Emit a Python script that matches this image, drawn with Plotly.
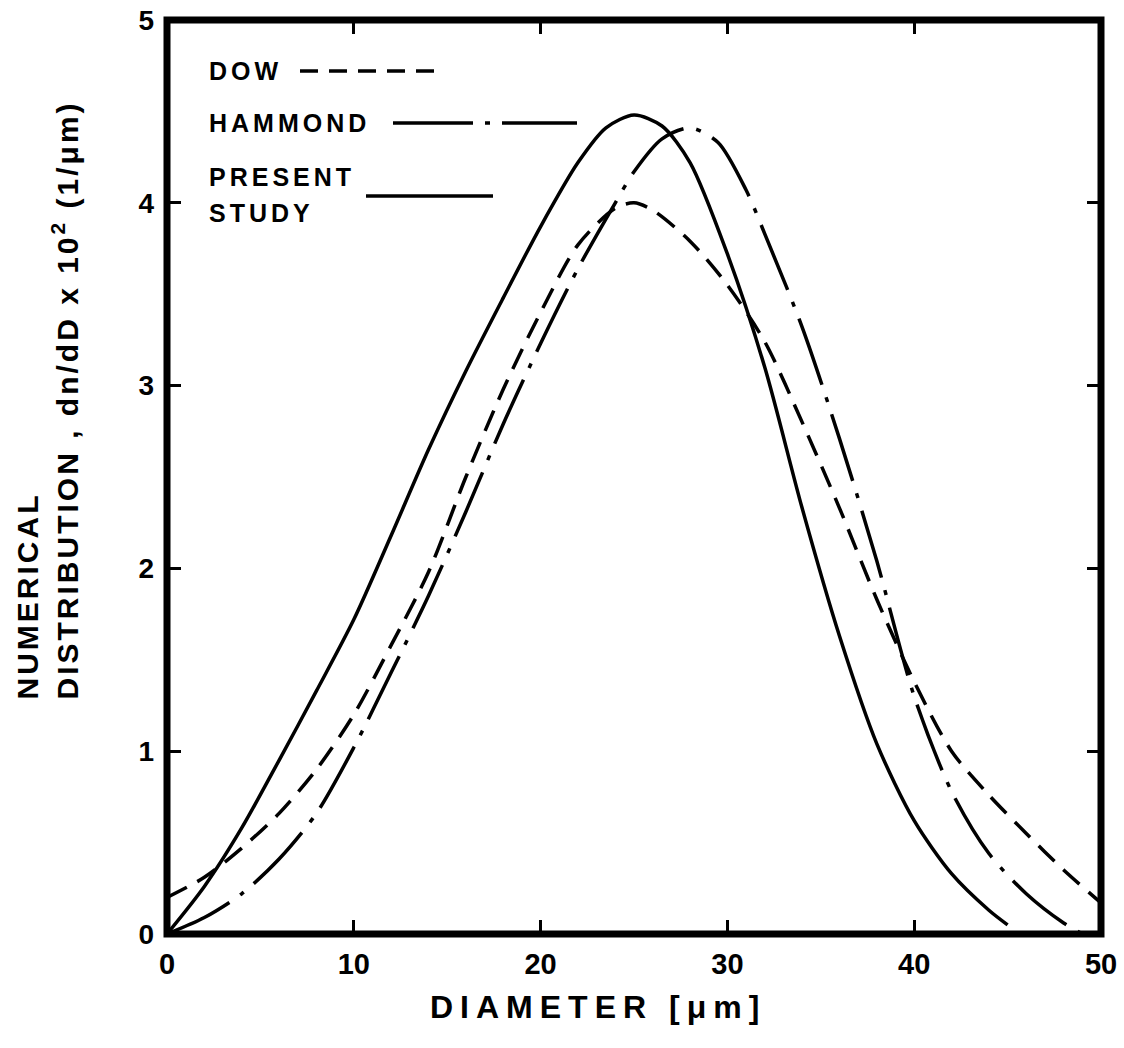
import plotly.graph_objects as go

# ---------------- data ----------------
present_d = [0, 2, 4, 6, 8, 10, 12, 14, 16, 18, 20, 22, 23.5, 25, 26.5, 28, 30, 32, 34, 36, 38, 40, 42, 44, 45]
present_y = [0, 0.26, 0.58, 0.95, 1.33, 1.72, 2.18, 2.65, 3.08, 3.48, 3.87, 4.22, 4.41, 4.48, 4.42, 4.22, 3.72, 3.10, 2.33, 1.63, 1.04, 0.62, 0.33, 0.13, 0.05]

dow_d = [0, 2, 4, 6, 8, 10, 12, 14, 16, 18, 20, 22, 24, 25, 26, 28, 30, 32, 34, 36, 38, 40, 42, 44, 46, 48, 50]
dow_y = [0.2, 0.31, 0.47, 0.66, 0.9, 1.2, 1.58, 1.98, 2.5, 2.98, 3.4, 3.77, 3.97, 4.0, 3.96, 3.79, 3.55, 3.24, 2.8, 2.33, 1.83, 1.38, 1.0, 0.76, 0.55, 0.35, 0.17]

hammond_d = [0, 2, 4, 6, 8, 10, 12, 14, 16, 18, 20, 22, 24, 25, 26.5, 28, 29.5, 31, 32, 34, 36, 38, 40, 42, 44, 46, 48, 49]
hammond_y = [0, 0.09, 0.22, 0.41, 0.66, 1.02, 1.43, 1.85, 2.31, 2.79, 3.23, 3.64, 4.0, 4.17, 4.35, 4.41, 4.33, 4.07, 3.83, 3.32, 2.71, 2.04, 1.30, 0.78, 0.44, 0.22, 0.06, 0.0]

x_ticks = [0, 10, 20, 30, 40, 50]
y_ticks = [0, 1, 2, 3, 4, 5]

legend_labels = ["DOW", "HAMMOND", "PRESENT", "STUDY"]

# ---------------- figure ----------------
# the page body margin is removed (post_script), so the figure fills the 1124x1048 window
W, H = 1124, 1048
PX0, PX1, PY0, PY1 = 167, 1101, 20, 934          # plot area in page pixels
L, R, T, B = PX0, W - PX1, PY0, H - PY1
PW, PH = PX1 - PX0, PY1 - PY0

def px_x(p):
    return (p - PX0) / PW

def px_y(p):
    return (PY1 - p) / PH

BOLD = "Liberation Sans, Arial, Helvetica, sans-serif"
LW = 3.5
DOW_DASH = "22px,12px"
HAM_DASH = "70px,13px,5px,13px"

fig = go.Figure()
fig.add_trace(go.Scatter(x=dow_d, y=dow_y, mode="lines", name="DOW",
                         line=dict(color="black", width=LW, dash=DOW_DASH, shape="spline", smoothing=0.8)))
fig.add_trace(go.Scatter(x=hammond_d, y=hammond_y, mode="lines", name="HAMMOND",
                         line=dict(color="black", width=LW, dash=HAM_DASH, shape="spline", smoothing=0.8)))
fig.add_trace(go.Scatter(x=present_d, y=present_y, mode="lines", name="PRESENT STUDY",
                         line=dict(color="black", width=LW, shape="spline", smoothing=0.8)))

fig.update_layout(
    width=W, height=H,
    margin=dict(l=L, r=R, t=T, b=B, pad=0, autoexpand=False),
    paper_bgcolor="white", plot_bgcolor="white",
    showlegend=False,
    xaxis=dict(range=[0, 50], tickvals=x_ticks, ticktext=[str(v) for v in x_ticks],
               ticks="inside", ticklen=14, tickwidth=2.5, tickcolor="black",
               mirror="ticks", showline=False, showgrid=False, zeroline=False,
               automargin=False, ticklabelstandoff=10, ticklabeloverflow="allow",
               tickfont=dict(family=BOLD, size=29, color="black", weight="bold")),
    yaxis=dict(range=[0, 5], tickvals=y_ticks, ticktext=[str(v) for v in y_ticks],
               ticks="inside", ticklen=14, tickwidth=2.5, tickcolor="black",
               mirror="ticks", showline=False, showgrid=False, zeroline=False,
               automargin=False, ticklabelstandoff=12, ticklabeloverflow="allow",
               tickfont=dict(family=BOLD, size=28, color="black", weight="bold")),
)

shapes = [
    # plot frame
    dict(type="rect", xref="paper", yref="paper", x0=0, x1=1, y0=0, y1=1,
         line=dict(color="black", width=7)),
    # legend samples
    dict(type="line", xref="paper", yref="paper", x0=px_x(300), x1=px_x(437), y0=px_y(71), y1=px_y(71),
         line=dict(color="black", width=LW, dash="18px,11px")),
    dict(type="line", xref="paper", yref="paper", x0=px_x(393), x1=px_x(577), y0=px_y(123), y1=px_y(123),
         line=dict(color="black", width=LW, dash="80px,12px,5px,12px")),
    dict(type="line", xref="paper", yref="paper", x0=px_x(366), x1=px_x(493), y0=px_y(196), y1=px_y(196),
         line=dict(color="black", width=LW)),
]
fig.update_layout(shapes=shapes)

def ls(text, spacing):
    return f'<span style="letter-spacing:{spacing}px">{text}</span>'

leg_font = dict(family=BOLD, size=25, color="black", weight="bold")
ann = []
for lab, py in zip(legend_labels, [71, 123, 177, 213]):
    ann.append(dict(text=ls(lab, 4), xref="paper", yref="paper", x=px_x(207), y=px_y(py),
                    xanchor="left", yanchor="middle", showarrow=False, font=leg_font))

ytitle_font = dict(family=BOLD, size=30, color="black", weight="bold")
ann.append(dict(text=ls("NUMERICAL", 3), xref="paper", yref="paper", x=px_x(27), y=px_y(702),
                xanchor="center", yanchor="bottom", textangle=-90, showarrow=False, font=ytitle_font))
ann.append(dict(text=ls("DISTRIBUTION , dn/dD x 10<sup>2</sup> (1/μm)", 3), xref="paper", yref="paper",
                x=px_x(65), y=px_y(702), xanchor="center", yanchor="bottom", textangle=-90,
                showarrow=False, font=ytitle_font))
ann.append(dict(text=ls("DIAMETER [μm]", 7), xref="paper", yref="paper", x=px_x(598), y=px_y(1007),
                xanchor="center", yanchor="middle", showarrow=False,
                font=dict(family=BOLD, size=32, color="black", weight="bold")))
fig.update_layout(annotations=ann)

fig.write_html("out.html",
               config={"displayModeBar": False},
               post_script="document.body.style.margin='0px';document.body.style.overflow='hidden';")
